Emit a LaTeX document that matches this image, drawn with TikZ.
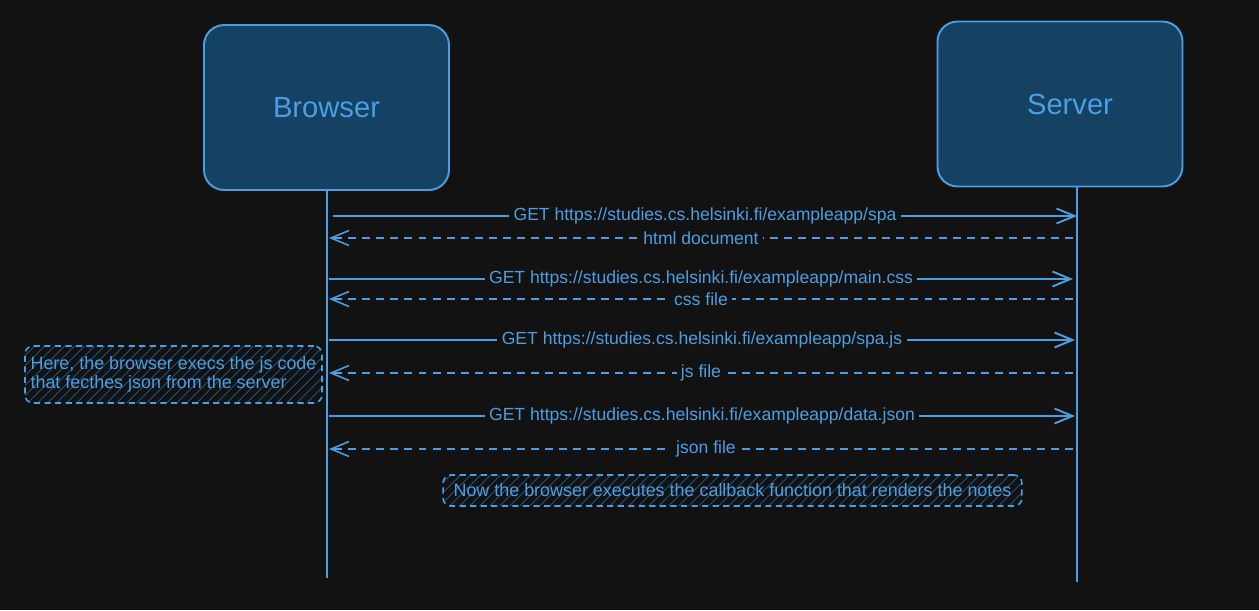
\documentclass[tikz,border=0pt]{standalone}
\usepackage{fontspec}
\setmainfont{Liberation Sans}
\usepackage{xcolor}
\usetikzlibrary{arrows.meta}
\usetikzlibrary{patterns.meta}
\definecolor{bgcol}{HTML}{121212}
\definecolor{linecol}{HTML}{4C9EE2}
\definecolor{boxcol}{HTML}{154162}
\definecolor{hatchcol}{HTML}{1D4A70}

\begin{document}
\begin{tikzpicture}[x=0.02cm,y=-0.02cm,line width=1.1pt,
	actor node/.style={rectangle, rounded corners=0.4cm, draw=linecol, fill=boxcol, text=linecol, minimum width=4.9cm, minimum height=3.3cm, font=\fontsize{16.6}{19}\selectfont},
	note node/.style={rectangle, rounded corners=0.16cm, draw=linecol, line width=0.9pt, dash pattern=on 3.5pt off 2.5pt, pattern={Lines[angle=45,distance=4pt,line width=0.6pt]}, pattern color=hatchcol, text=linecol, font=\fontsize{10.2}{11}\selectfont, inner sep=2pt},
	msg/.style={draw=linecol, -{Straight Barb[length=3.6mm,width=3mm]}},
	reply/.style={msg, line width=0.9pt, dash pattern=on 4.5pt off 3.5pt}]
	% Background
	\fill[bgcol] (0,0) rectangle (1259,610);
	\useasboundingbox (0,0) rectangle (1259,610);
	
	% Nodes
	\node[actor node] (browser) at (326.5,107.5) {Browser\hspace{0.12cm}};
	\node[actor node] (server) at (1060,104) {\hspace{0.4cm}Server};
	
	% Lifelines
	\coordinate (bTop) at (327,190);
	\coordinate (bEnd) at (327,578);
	\coordinate (sTop) at (1077,187);
	\coordinate (sEnd) at (1077,582);
	\draw[linecol] (bTop) -- (bEnd);
	\draw[linecol] (sTop) -- (sEnd);
	
	\coordinate (b1) at (333,216); \coordinate (s1) at (1077,216);
	\coordinate (b2) at (329,238); \coordinate (s2) at (1073,238);
	\coordinate (b3) at (329,279); \coordinate (s3) at (1073,279);
	\coordinate (b4) at (329,299); \coordinate (s4) at (1073,299);
	\coordinate (b5) at (329,340); \coordinate (s5) at (1075,340);
	\coordinate (b6) at (329,373); \coordinate (s6) at (1073,373);
	\coordinate (b7) at (329,416); \coordinate (s7) at (1075,416);
	\coordinate (b8) at (329,449); \coordinate (s8) at (1073,449);
	
	% Messages
	\path[every node/.style={fill=bgcol, text=linecol, inner sep=2.5pt, font=\fontsize{10}{12}\selectfont}]
	(b1) edge[msg] node {GET https://studies.cs.helsinki.fi/exampleapp/spa} (s1)
	(s2) edge[reply] node {html document} (b2)
	(b3) edge[msg] node {GET https://studies.cs.helsinki.fi/exampleapp/main.css} (s3)
	(s4) edge[reply] node {css file} (b4)
	(b5) edge[msg] node {GET https://studies.cs.helsinki.fi/exampleapp/spa.js} (s5)
	(s6) edge[reply] node {js file} (b6)
	(b7) edge[msg] node {GET https://studies.cs.helsinki.fi/exampleapp/data.json} (s7)
	(s8) edge[reply] node[xshift=0.1cm] {json file} (b8);
	
	% Notes
	\node[note node, align=left, minimum width=5.94cm, minimum height=1.14cm] (note1) at (173.5,374.5) {Here, the browser execs the js code\\that fecthes json from the server};
	\node[note node, minimum width=11.58cm, minimum height=0.62cm] (note2) at (732.5,490.5) {Now the browser executes the callback function that renders the notes};
	
\end{tikzpicture}
\end{document}
